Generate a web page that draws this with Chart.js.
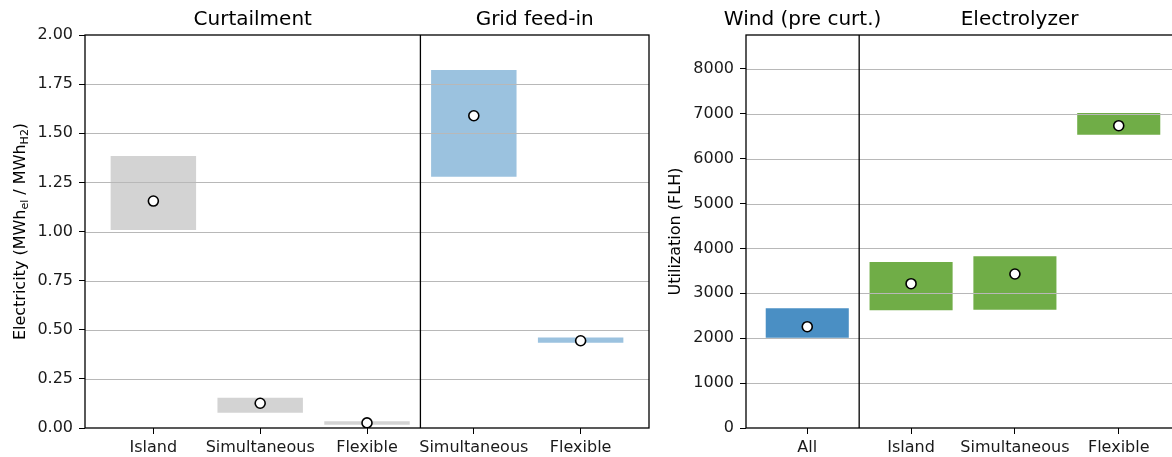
<!DOCTYPE html>
<html>
<head>
<meta charset="utf-8">
<script src="https://cdn.jsdelivr.net/npm/chart.js@4"></script>
<style>
  html, body { margin: 0; padding: 0; background: #fff; width: 1172px; height: 457px; overflow: hidden; }
  .panel { position: absolute; top: 0; }
</style>
</head>
<body>
<div class="panel" style="left:0px"><canvas id="leftChart" width="660" height="457"></canvas></div>
<div class="panel" style="left:660px"><canvas id="rightChart" width="530" height="457"></canvas></div>
<script>
// left panel: electricity per MWh H2, ranges + point value
var leftCats = ['Island', 'Simultaneous', 'Flexible', 'Simultaneous', 'Flexible'];
var leftGroup = [0, 0, 0, 1, 1];
var leftGroupNames = ['Curtailment', 'Grid feed-in'];
var leftLow = [1.008, 0.078, 0.017, 1.279, 0.434];
var leftHigh = [1.384, 0.154, 0.034, 1.822, 0.46];
var leftMid = [1.155, 0.126, 0.026, 1.589, 0.444];
var leftTicks = [0, 0.25, 0.5, 0.75, 1, 1.25, 1.5, 1.75, 2];

// right panel: full load hours
var rightCats = ['All', 'Island', 'Simultaneous', 'Flexible'];
var rightGroup = [0, 1, 1, 1];
var rightGroupNames = ['Wind (pre curt.)', 'Electrolyzer'];
var rightLow = [2011, 2621, 2635, 6532];
var rightHigh = [2666, 3697, 3824, 7016];
var rightMid = [2256, 3214, 3430, 6733];
var rightTicks = [0, 1000, 2000, 3000, 4000, 5000, 6000, 7000, 8000];

Chart.defaults.font.family = '"DejaVu Sans", sans-serif';
Chart.defaults.color = '#1a1a1a';

function panelPlugin(opts) {
    return {
        id: 'panel',
        // grid goes on top of the bars but under the markers
        afterDatasetDraw: function(chart, args) {
            if (args.index !== 0) return;
            var ctx = chart.ctx, area = chart.chartArea, y = chart.scales.y;
            ctx.save();
            ctx.strokeStyle = '#b8b8b8';
            ctx.lineWidth = 1.2;
            y.ticks.forEach(function(t) {
                var py = Math.round(y.getPixelForValue(t.value)) + 0.5;
                if (py <= area.top + 1 || py >= area.bottom - 1) return;
                ctx.beginPath();
                ctx.moveTo(area.left, py);
                ctx.lineTo(area.right, py);
                ctx.stroke();
            });
            ctx.restore();
        },
        afterDraw: function(chart) {
            var ctx = chart.ctx, area = chart.chartArea, x = chart.scales.x;
            ctx.save();
            ctx.strokeStyle = '#000';
            ctx.lineWidth = 1.3;
            ctx.strokeRect(area.left, area.top, area.right - area.left, area.bottom - area.top);
            var dx = x.getPixelForValue(opts.divider);
            ctx.beginPath();
            ctx.moveTo(dx, area.top);
            ctx.lineTo(dx, area.bottom);
            ctx.stroke();

            // group titles centred over each section
            ctx.fillStyle = '#000';
            ctx.font = '20px "DejaVu Sans"';
            ctx.textAlign = 'center';
            ctx.textBaseline = 'alphabetic';
            var bounds = [x.min, opts.divider, x.max];
            opts.titles.forEach(function(t, i) {
                var cx = x.getPixelForValue((bounds[i] + bounds[i + 1]) / 2);
                ctx.fillText(t, cx, 25);
            });

            // y label, with subscripts
            var full = 16, small = 11;
            var w = 0;
            opts.ylabel.forEach(function(p) {
                ctx.font = (p.sub ? small : full) + 'px "DejaVu Sans"';
                w += ctx.measureText(p.t).width;
            });
            ctx.translate(opts.ylabelX, (area.top + area.bottom) / 2);
            ctx.rotate(-Math.PI / 2);
            ctx.textAlign = 'left';
            var px = -w / 2;
            opts.ylabel.forEach(function(p) {
                ctx.font = (p.sub ? small : full) + 'px "DejaVu Sans"';
                ctx.fillText(p.t, px, p.sub ? 3 : 0);
                px += ctx.measureText(p.t).width;
            });
            ctx.restore();
        }
    };
}

function makePanel(id, cats, group, low, high, mid, yTicks, yMax, groupColors, fmt, opts, pad) {
    var n = cats.length;
    var margin = 0.4 + 0.05 * (n - 1 + 0.8);
    var bars = [], points = [], colors = [];
    for (var i = 0; i < n; i++) {
        bars.push({x: i, y: [low[i], high[i]]});
        points.push({x: i, y: mid[i]});
        colors.push(groupColors[group[i]]);
    }
    var divider = group.indexOf(1) - 0.5;
    return new Chart(document.getElementById(id), {
        type: 'bar',
        data: {
            datasets: [
                {
                    type: 'bar',
                    data: bars,
                    backgroundColor: colors,
                    borderWidth: 0,
                    barPercentage: 0.8,
                    categoryPercentage: 1.0,
                    order: 1
                },
                {
                    type: 'scatter',
                    data: points,
                    pointRadius: 5,
                    pointBackgroundColor: '#fff',
                    pointBorderColor: '#000',
                    pointBorderWidth: 1.6,
                    order: 0
                }
            ]
        },
        options: {
            responsive: false,
            animation: false,
            devicePixelRatio: 1,
            layout: {padding: pad},
            plugins: {legend: {display: false}, tooltip: {enabled: false}},
            scales: {
                x: {
                    type: 'linear',
                    offset: false,
                    min: -margin,
                    max: n - 1 + margin,
                    afterBuildTicks: function(scale) {
                        scale.ticks = cats.map(function(c, i) { return {value: i}; });
                    },
                    afterFit: function(scale) { scale.height = 29; },
                    ticks: {
                        autoSkip: false,
                        maxRotation: 0,
                        padding: 4,
                        font: {size: 16},
                        callback: function(v) { return cats[v]; }
                    },
                    grid: {offset: false, drawOnChartArea: false, drawTicks: true, tickLength: 6, color: '#000', lineWidth: 1},
                    border: {display: false}
                },
                y: {
                    min: 0,
                    max: yMax,
                    afterBuildTicks: function(scale) {
                        scale.ticks = yTicks.map(function(v) { return {value: v}; });
                    },
                    afterFit: function(scale) { scale.width = pad.yw; },
                    ticks: {
                        padding: 6,
                        font: {size: 16},
                        callback: fmt
                    },
                    grid: {drawOnChartArea: false, drawTicks: true, tickLength: 6, color: '#000', lineWidth: 1},
                    border: {display: false}
                }
            }
        },
        plugins: [panelPlugin({
            divider: divider,
            titles: opts.titles,
            ylabel: opts.ylabel,
            ylabelX: opts.ylabelX
        })]
    });
}

makePanel('leftChart', leftCats, leftGroup, leftLow, leftHigh, leftMid, leftTicks, 2,
    ['#d3d3d3', '#9bc2df'],
    function(v) { return v.toFixed(2); },
    {
        titles: leftGroupNames,
        ylabel: [{t: 'Electricity (MWh'}, {t: 'el', sub: true}, {t: ' / MWh'}, {t: 'H2', sub: true}, {t: ')'}],
        ylabelX: 25
    },
    {left: 0, top: 35, right: 11, bottom: 0, yw: 85});

makePanel('rightChart', rightCats, rightGroup, rightLow, rightHigh, rightMid, rightTicks, 8753,
    ['#4a8fc4', '#70ad47'],
    function(v) { return String(v); },
    {
        titles: rightGroupNames,
        ylabel: [{t: 'Utilization (FLH)'}],
        ylabelX: 20
    },
    {left: 0, top: 35, right: 10, bottom: 0, yw: 86});
</script>
</body>
</html>
